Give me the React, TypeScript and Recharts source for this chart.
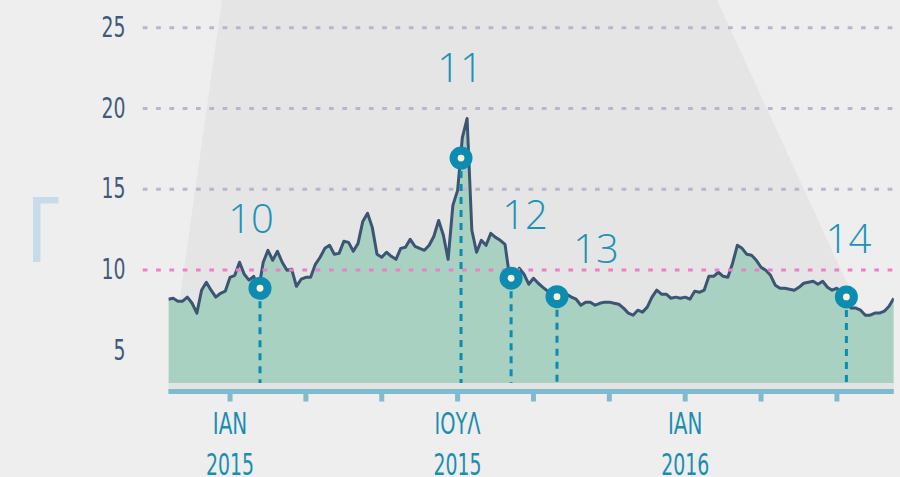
import React from 'react';
import {
  ComposedChart,
  Area,
  XAxis,
  YAxis,
  ReferenceLine,
  ReferenceDot,
  ReferenceArea,
} from 'recharts';

// ---------- DATA ----------
// x = months since January 2015; series sampled every 1/8 month from mid-Nov 2014
const START_MONTH = -1.625;
const STEP_MONTH = 0.125;
const END_MONTH = 17.5;

const volatility = [
  8.19, 8.25, 8.07, 8.07, 8.32, 7.94, 7.33, 8.75, 9.24, 8.75,
  8.32, 8.56, 8.69, 9.55, 9.67, 10.48, 9.74, 9.37, 9.61, 8.75,
  10.48, 11.22, 10.6, 11.16, 10.48, 9.98, 10.05, 8.99, 9.43, 9.55,
  9.55, 10.35, 10.79, 11.34, 11.53, 10.97, 11.03, 11.78, 11.71, 11.16,
  11.65, 13.01, 13.51, 12.64, 10.97, 10.79, 11.1, 10.85, 10.66, 11.34,
  11.41, 11.9, 11.47, 11.34, 11.22, 11.53, 12.09, 13.07, 12.15, 10.66,
  14.0, 14.93, 18.2, 19.38, 12.46, 11.1, 11.84, 11.53, 12.27, 12.02,
  11.84, 11.59, 9.49, 9.18, 10.11, 9.74, 9.12, 9.49, 9.18, 8.93,
  8.69, 8.62, 8.44, 8.62, 8.5, 8.32, 8.19, 7.82, 8.01, 8.01,
  7.82, 7.94, 8.01, 8.01, 7.94, 7.88, 7.64, 7.33, 7.2, 7.51,
  7.39, 7.7, 8.32, 8.75, 8.5, 8.5, 8.25, 8.32, 8.25, 8.32,
  8.19, 8.69, 8.62, 8.75, 9.61, 9.61, 9.86, 9.61, 9.55, 10.42,
  11.53, 11.34, 10.97, 10.91, 10.6, 10.17, 9.98, 9.67, 9.06, 8.87,
  8.87, 8.81, 8.75, 8.93, 9.18, 9.24, 9.3, 9.12, 9.3, 8.93,
  8.75, 8.87, 8.56, 8.32, 7.64, 7.64, 7.51, 7.2, 7.2, 7.33,
  7.33, 7.45, 7.76, 8.25,
];

const monthTicks = [0, 2, 4, 6, 8, 10, 12, 14, 16];
const monthLabelKeys = [0, 6, 12];
const monthLabelTop = ['ΙΑΝ', 'ΙΟΥΛ', 'ΙΑΝ'];
const monthLabelBottom = ['2015', '2015', '2016'];

const valueTicks = [5, 10, 15, 20, 25];
const gridValues = [25, 20, 15];
const thresholdValue = 10;
const baseValue = 3;

const eventIds = ['10', '11', '12', '13', '14'];
const eventMonths = [0.79, 6.09, 7.41, 8.62, 16.25];
const eventValues = [8.87, 16.93, 9.49, 8.35, 8.33];

// ---------- LAYOUT / STYLE ----------
const W = 900;
const H = 477;
const Y_MIN = 2.477;
const Y_MAX = 25;
const STRIP_TOP = 2.632;
const GRID_LEFT_MONTH = -2.3;
const labelOffsets: [number, number][] = [
  [-9, -55],
  [-1, -76],
  [14, -49],
  [39, -34],
  [2, -44],
];

const CONDENSED =
  "'Liberation Sans Narrow', 'DejaVu Sans Condensed', 'Roboto Condensed', sans-serif";
const THIN = "'Open Sans', 'Noto Sans', sans-serif";
const AXIS_BLUE = '#7dbccf';
const TEAL = '#0b8cb0';
const LABEL_TEAL = '#1b93b6';

const data = volatility.map((v, i) => ({ m: START_MONTH + i * STEP_MONTH, v }));

const XTick = (props: any) => {
  const { x, y, payload } = props;
  const idx = monthLabelKeys.indexOf(payload.value);
  if (idx < 0) return <g />;
  const top = monthLabelTop[idx];
  const bottom = monthLabelBottom[idx];
  return (
    <g>
      <text
        x={x}
        y={y + 32.5}
        textAnchor="middle"
        fill="#1a8db1"
        fontSize={30}
        fontFamily={CONDENSED}
        textLength={top.length * 11.5}
        lengthAdjust="spacingAndGlyphs"
      >
        {top}
      </text>
      <text
        x={x}
        y={y + 73}
        textAnchor="middle"
        fill="#1a8db1"
        fontSize={30}
        fontFamily={CONDENSED}
        textLength={48}
        lengthAdjust="spacingAndGlyphs"
      >
        {bottom}
      </text>
    </g>
  );
};

const YTick = (props: any) => {
  const { x, y, payload } = props;
  const s = String(payload.value);
  return (
    <text
      x={x - 43}
      y={y + 9}
      textAnchor="end"
      fill="#415a7b"
      fontSize={29}
      fontFamily={CONDENSED}
      textLength={s.length * 12}
      lengthAdjust="spacingAndGlyphs"
    >
      {s}
    </text>
  );
};

const makeMarker = (i: number) => (p: any) => {
  const { cx, cy } = p;
  const [dx, dy] = labelOffsets[i];
  return (
    <g>
      <circle cx={cx} cy={cy} r={11.5} fill={TEAL} />
      <circle cx={cx} cy={cy} r={3.4} fill="#fdf4d4" />
      <text
        x={cx + dx}
        y={cy + dy}
        textAnchor="middle"
        fill={LABEL_TEAL}
        fontSize={40}
        fontWeight={300}
        fontFamily={THIN}
      >
        {eventIds[i]}
      </text>
    </g>
  );
};

export default function App() {
  return (
    <div
      style={{
        position: 'absolute',
        left: 0,
        top: 0,
        width: W,
        height: H,
        background: '#eeeeee',
        overflow: 'hidden',
      }}
    >
      <svg width={W} height={H} style={{ position: 'absolute', left: 0, top: 0 }}>
        <polygon points="222,0 717,0 893,383 168,383" fill="#e5e5e5" />
        <rect x={33} y={197} width={7.5} height={65} fill="#c6dcea" />
        <rect x={33} y={197} width={25.5} height={6.5} fill="#c6dcea" />
      </svg>
      <div style={{ position: 'absolute', left: 0, top: 0 }}>
        <ComposedChart
          width={W}
          height={H}
          data={data}
          margin={{ top: 27.75, right: 6.2, bottom: 0, left: 0 }}
        >
          <XAxis
            dataKey="m"
            type="number"
            domain={[START_MONTH, END_MONTH]}
            allowDataOverflow
            ticks={monthTicks}
            interval={0}
            height={85.5}
            axisLine={{ stroke: AXIS_BLUE, strokeWidth: 5 }}
            tickLine={{ stroke: AXIS_BLUE, strokeWidth: 5 }}
            tickSize={10}
            tickMargin={0}
            tick={<XTick />}
          />
          <YAxis
            type="number"
            domain={[Y_MIN, Y_MAX]}
            allowDataOverflow
            ticks={valueTicks}
            interval={0}
            width={168.4}
            axisLine={false}
            tickLine={false}
            tickSize={0}
            tickMargin={0}
            tick={<YTick />}
          />
          <ReferenceArea
            x1={START_MONTH}
            x2={END_MONTH}
            y1={STRIP_TOP}
            y2={baseValue}
            fill="#e3e3e3"
            fillOpacity={1}
            stroke="none"
          />
          <Area
            type="linear"
            dataKey="v"
            stroke="#3c5574"
            strokeWidth={3}
            strokeLinejoin="round"
            fill="#a9d1c1"
            fillOpacity={1}
            baseValue={baseValue}
            dot={false}
            activeDot={false}
            isAnimationActive={false}
          />
          {gridValues.map((g) => (
            <ReferenceLine
              key={'g' + g}
              segment={[
                { x: GRID_LEFT_MONTH, y: g },
                { x: END_MONTH, y: g },
              ]}
              ifOverflow="visible"
              stroke="#b8b5cd"
              strokeWidth={3}
              strokeDasharray="4.7 8.6"
            />
          ))}
          <ReferenceLine
            segment={[
              { x: GRID_LEFT_MONTH, y: thresholdValue },
              { x: END_MONTH, y: thresholdValue },
            ]}
            ifOverflow="visible"
            stroke="#f27bcb"
            strokeWidth={3}
            strokeDasharray="4.7 8.6"
          />
          {eventMonths.map((m, i) => (
            <ReferenceLine
              key={'e' + i}
              segment={[
                { x: m, y: eventValues[i] },
                { x: m, y: baseValue },
              ]}
              ifOverflow="visible"
              stroke={TEAL}
              strokeWidth={3}
              strokeDasharray="7 6"
            />
          ))}
          {eventMonths.map((m, i) => (
            <ReferenceDot
              key={'d' + i}
              x={m}
              y={eventValues[i]}
              r={11.5}
              ifOverflow="visible"
              shape={makeMarker(i)}
            />
          ))}
        </ComposedChart>
      </div>
    </div>
  );
}
